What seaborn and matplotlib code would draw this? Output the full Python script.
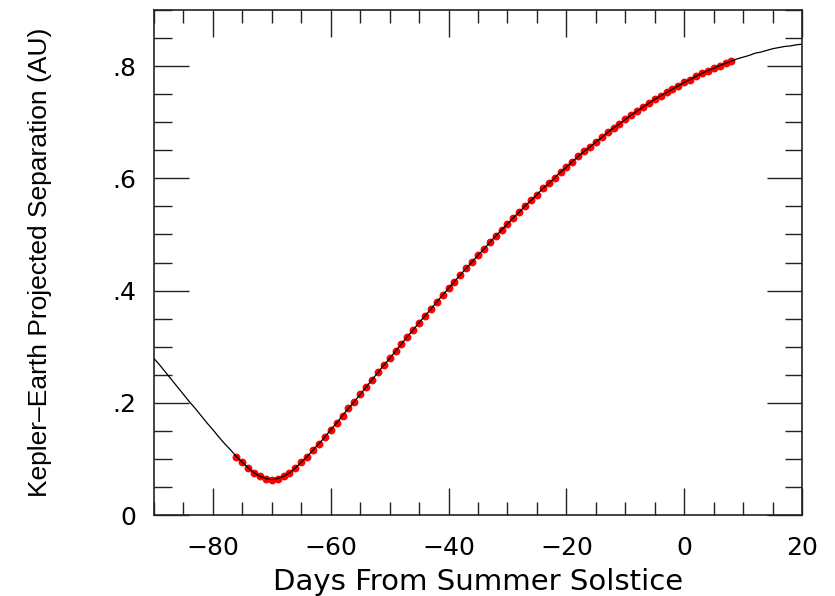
import matplotlib
matplotlib.use("Agg")
import matplotlib.pyplot as plt
from matplotlib.ticker import MultipleLocator, FixedLocator, FixedFormatter
import numpy as np
import pandas as pd
import seaborn as sns

# Days relative to the summer solstice, one sample per day
days = list(range(-90, 21))

# Kepler-Earth projected separation (AU) for each day above
separation = [
    0.279, 0.267, 0.254, 0.241, 0.228, 0.215, 0.202, 0.190, 0.177, 0.164,
    0.152, 0.139, 0.127, 0.116, 0.104, 0.094, 0.084, 0.075, 0.069, 0.065,
    0.063,
    0.065, 0.069, 0.075, 0.084, 0.094, 0.104, 0.116, 0.127, 0.139, 0.152,
    0.164, 0.177, 0.190, 0.202, 0.215, 0.228, 0.241, 0.254, 0.267, 0.279,
    0.292, 0.305, 0.318, 0.330, 0.343, 0.355, 0.367, 0.380, 0.392, 0.404,
    0.416, 0.428, 0.440, 0.451, 0.463,
    0.474, 0.486, 0.497, 0.508, 0.519, 0.530, 0.540, 0.551, 0.561, 0.571,
    0.582, 0.591, 0.601, 0.611, 0.620, 0.630, 0.639, 0.648, 0.656, 0.665,
    0.673, 0.682, 0.690, 0.697, 0.705, 0.713, 0.720, 0.727, 0.734, 0.741,
    0.747, 0.753, 0.759, 0.765, 0.771, 0.776, 0.782, 0.787, 0.792, 0.796,
    0.801, 0.805, 0.809, 0.813, 0.816, 0.819, 0.823, 0.825, 0.828, 0.831,
    0.833, 0.835, 0.836, 0.838, 0.839,
]

# Observing window marked with red points
window_start = -76
window_end = 8

xtick_values = [-80, -60, -40, -20, 0, 20]
ytick_values = [0.0, 0.2, 0.4, 0.6, 0.8]
ytick_labels = ["0", ".2", ".4", ".6", ".8"]

sns.set_style("ticks")
plt.rcParams["font.family"] = ["DejaVu Sans"]
plt.rcParams["text.color"] = "black"
plt.rcParams["axes.labelcolor"] = "black"
plt.rcParams["xtick.labelcolor"] = "black"
plt.rcParams["ytick.labelcolor"] = "black"

df = pd.DataFrame({"day": days, "sep": separation})
window = df[(df["day"] >= window_start) & (df["day"] <= window_end)]

fig = plt.figure(figsize=(8.35, 5.96), dpi=100)
ax = fig.add_axes([0.1844, 0.1359, 0.7762, 0.8473])

sns.scatterplot(data=window, x="day", y="sep", ax=ax, color="#ff0000",
                s=32, linewidth=0, zorder=2, legend=False)
sns.lineplot(data=df, x="day", y="sep", ax=ax, color="black",
             linewidth=0.9, zorder=3, legend=False)

ax.set_xlim(-90, 20)
ax.set_ylim(0, 0.9)

ax.xaxis.set_major_locator(FixedLocator(xtick_values))
ax.xaxis.set_minor_locator(MultipleLocator(5))
ax.yaxis.set_major_locator(FixedLocator(ytick_values))
ax.yaxis.set_major_formatter(FixedFormatter(ytick_labels))
ax.yaxis.set_minor_locator(MultipleLocator(0.05))

edge = "#222222"
for sp in ax.spines.values():
    sp.set_visible(True)
    sp.set_linewidth(1.2)
    sp.set_color(edge)

ax.tick_params(axis="both", which="both", direction="in", top=True,
               right=True, color=edge, width=1.0, labelcolor="black")
ax.tick_params(axis="x", which="major", length=19.5, pad=15, labelsize=18)
ax.tick_params(axis="x", which="minor", length=9.7)
ax.tick_params(axis="y", which="major", length=25, pad=13, labelsize=18)
ax.tick_params(axis="y", which="minor", length=12.6)

ax.set_xlabel("Days From Summer Solstice", fontsize=21, labelpad=6,
              color="black")
ax.set_ylabel("Kepler\u2013Earth Projected Separation (AU)", fontsize=19,
              family=["Liberation Sans", "DejaVu Sans"], color="black")
ax.yaxis.set_label_coords(-0.158, 0.5)

fig.savefig("out.png", dpi=100)
